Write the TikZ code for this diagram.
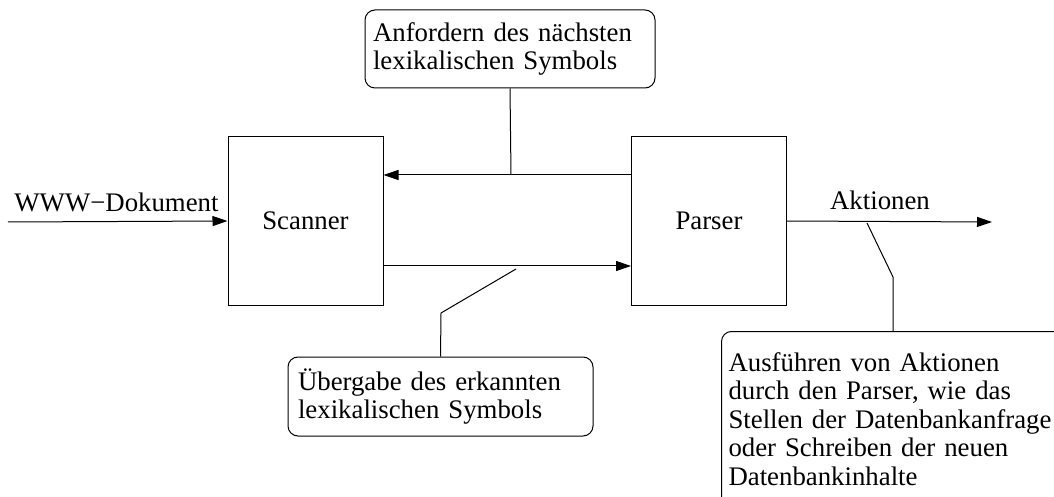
\documentclass[tikz,border=0pt]{standalone}
\usepackage{fontspec}
\setmainfont{Liberation Serif}
\usetikzlibrary{arrows.meta}

\begin{document}
\begin{tikzpicture}[x=0.5pt, y=-0.5pt, line width=0.5pt,
        >={Triangle[length=7.5pt,width=5pt]},
        every node/.style={font=\fontsize{13.4}{14.2}\selectfont},
        block/.style={draw, minimum width=77.5pt, minimum height=84pt, inner sep=0pt},
        note/.style={draw, rounded corners=5pt, align=left, inner ysep=0pt}]
    \clip (0,0) rectangle (1054,497);
    \node[block] (scanner) at (305.5,221) {Scanner};
    \node[block] (parser) at (709,221) {Parser};
    \node[note, text width=137pt, inner xsep=4pt, minimum height=39pt] (anfordern) at (510,49)
        {Anfordern des nächsten\\lexikalischen Symbols};
    \node[note, text width=142.5pt, inner xsep=5pt, minimum height=39.5pt] (uebergabe) at (440.5,396.5)
        {Übergabe des erkannten\\lexikalischen Symbols};
    \node[note, anchor=north west, text width=170pt, inner xsep=3.5pt, minimum height=87.5pt] (ausfuehren) at (721,331)
        {Ausführen von Aktionen\\durch den Parser, wie das\\Stellen der Datenbankanfrage\\oder Schreiben der neuen\\Datenbankinhalte};

    % Eingang und Ausgang
    \coordinate (in) at (8,222);
    \coordinate (out) at (992,222);
    \draw[->] (in) -- (scanner.west);
    \node (www) at (116.5,202) {WWW−Dokument};
    \draw[->] (parser.east) -- (out);
    \node (aktionen) at (880,200) {Aktionen};

    % Verbindungen zwischen Scanner und Parser
    \draw[->] ([yshift=23pt]parser.west) -- ([yshift=23pt]scanner.east);
    \draw[->] ([yshift=-22.5pt]scanner.east) -- ([yshift=-22.5pt]parser.west);

    % Hinweislinien
    \coordinate (req) at (511,175);
    \draw (anfordern.south) -- (req);
    \coordinate (tok) at (516,269);
    \coordinate (tok knee) at (441,313);
    \draw (tok) -- (tok knee) -- (uebergabe.north);
    \coordinate (act) at (867,223);
    \coordinate (act knee) at (893,277);
    \draw (act) -- (act knee) -- (act knee |- ausfuehren.north);
\end{tikzpicture}
\end{document}
